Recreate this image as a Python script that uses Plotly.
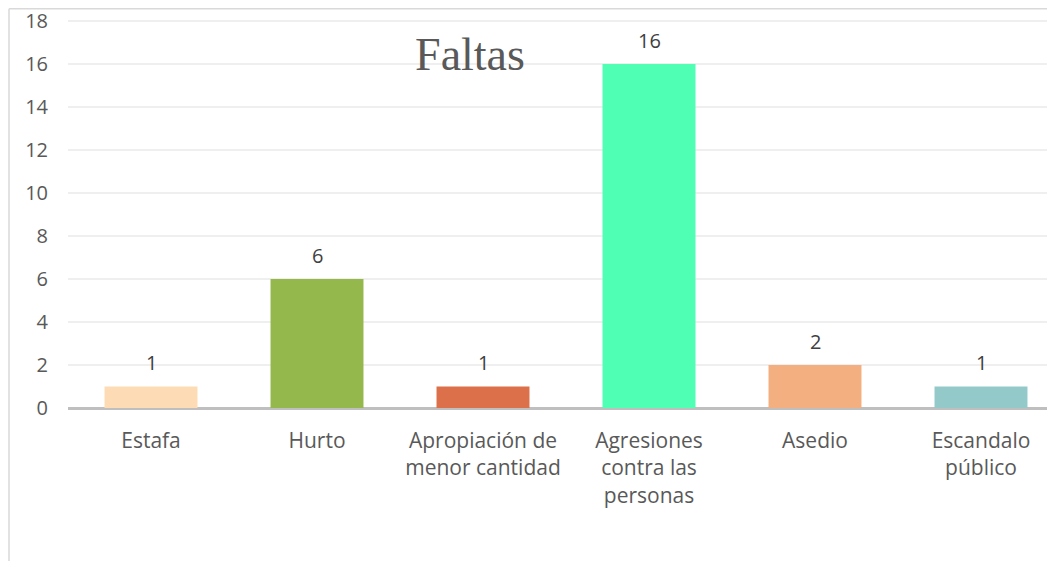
import plotly.graph_objects as go

categories = ["Estafa", "Hurto", "Apropiación de<br>menor cantidad", "Agresiones<br>contra las<br>personas", "Asedio", "Escandalo<br>público"]
values = [1, 6, 1, 16, 2, 1]
colors = ["#FDDBB5", "#94B84C", "#DC704A", "#4EFFB4", "#F3AF80", "#94C9CA"]
y_ticks = [0, 2, 4, 6, 8, 10, 12, 14, 16, 18]

# page has an 8px body margin; size the figure to fit the window
W, H = 1047, 553
L, T, B = 60, 12, 153
PW, PH = W - L, H - T - B

fig = go.Figure(go.Bar(
    x=list(range(len(categories))),
    y=values,
    marker=dict(color=colors, line=dict(width=0)),
    width=0.56,
    hoverinfo="x+y",
))

for i, v in enumerate(values):
    fig.add_annotation(x=i, y=v, text=str(v), showarrow=False,
                       yanchor="middle", yshift=24,
                       font=dict(family="Open Sans", size=20, color="#404040"))

fig.update_layout(
    width=W, height=H,
    margin=dict(l=L, r=0, t=T, b=B, pad=0),
    paper_bgcolor="white", plot_bgcolor="white",
    showlegend=False,
    title=dict(text="Faltas", x=462 / W, xanchor="center", xref="container",
               y=1 - 46 / H, yanchor="middle", yref="container",
               font=dict(family="Liberation Serif", size=46, color="#595959")),
    xaxis=dict(
        tickmode="array", tickvals=list(range(len(categories))), ticktext=categories,
        range=[-0.5, -0.5 + PW / 166],
        showgrid=False, zeroline=False, showline=False, ticks="",
        tickfont=dict(family="Open Sans", size=21, color="#595959"),
        ticklabelstandoff=18,
    ),
    yaxis=dict(
        range=[0, 18.05], tickmode="array", tickvals=y_ticks,
        showgrid=True, gridcolor="#EFEFEF", gridwidth=1.5,
        zeroline=True, zerolinecolor="#BFBFBF", zerolinewidth=2.5,
        showline=False, ticks="",
        tickfont=dict(family="Open Sans", size=20, color="#595959"),
        ticklabelstandoff=19, ticklabeloverflow="allow",
    ),
    shapes=[
        dict(type="line", xref="paper", yref="paper", x0=(1 - L) / PW, x1=(1 - L) / PW,
             y0=-B / PH, y1=(PH + T - 0.75) / PH, line=dict(color="#D9D9D9", width=1.5)),
        dict(type="line", xref="paper", yref="paper", x0=(1 - L) / PW, x1=1,
             y0=(PH + T - 0.75) / PH, y1=(PH + T - 0.75) / PH, line=dict(color="#D9D9D9", width=1.5)),
    ],
)

fig.write_html("out.html")
